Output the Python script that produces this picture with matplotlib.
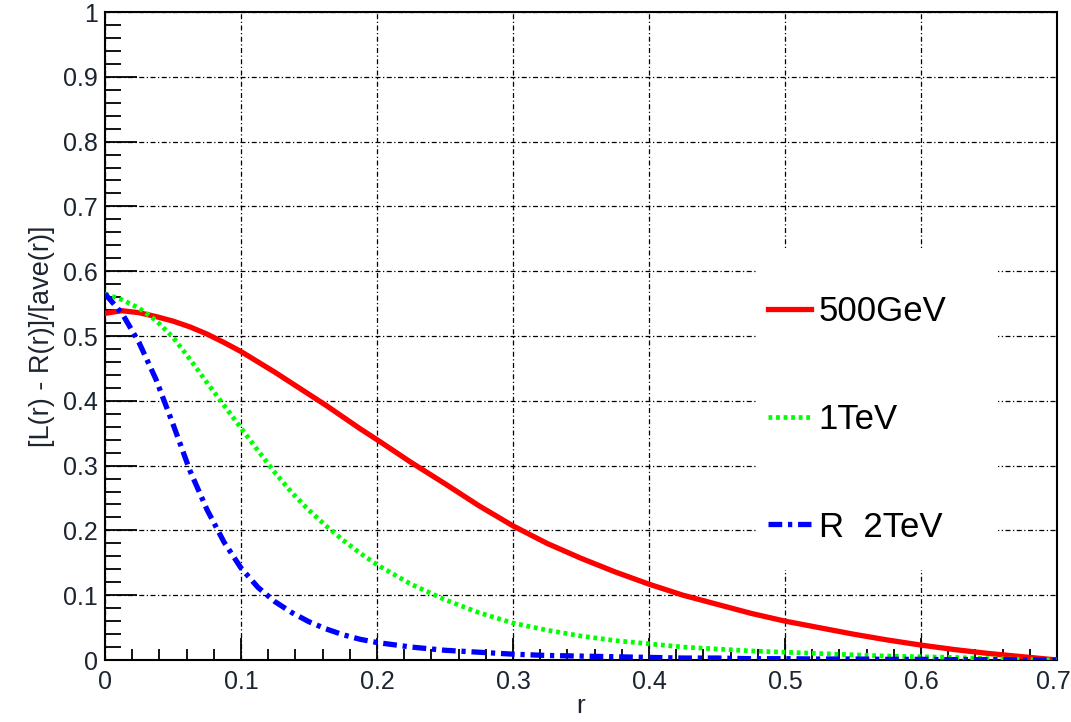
import matplotlib
matplotlib.use("Agg")
from matplotlib import pyplot as plt
from matplotlib.ticker import MultipleLocator, FuncFormatter
from matplotlib.patches import Rectangle
from matplotlib.transforms import ScaledTranslation

plt.rcParams['font.family'] = ['Liberation Sans', 'DejaVu Sans']

# values
r = [0, 0.0125, 0.025, 0.0375, 0.05, 0.0625, 0.075, 0.0875, 0.1, 0.1125,
     0.125, 0.1375, 0.15, 0.1625, 0.175, 0.1875, 0.2, 0.225, 0.25, 0.275,
     0.3, 0.325, 0.35, 0.375, 0.4, 0.425, 0.45, 0.475, 0.5, 0.525,
     0.55, 0.575, 0.6, 0.625, 0.65, 0.675, 0.7]
gev500 = [0.535, 0.539, 0.536, 0.530, 0.523, 0.514, 0.503, 0.490, 0.476, 0.460,
          0.444, 0.427, 0.410, 0.393, 0.375, 0.357, 0.340, 0.305, 0.272, 0.238,
          0.207, 0.180, 0.157, 0.136, 0.117, 0.100, 0.086, 0.072, 0.060, 0.050,
          0.040, 0.031, 0.023, 0.016, 0.010, 0.005, 0.0]
tev1 = [0.565, 0.556, 0.543, 0.524, 0.498, 0.464, 0.428, 0.393, 0.358, 0.323,
        0.289, 0.258, 0.231, 0.207, 0.185, 0.165, 0.147, 0.117, 0.093, 0.073,
        0.057, 0.046, 0.037, 0.030, 0.025, 0.020, 0.017, 0.014, 0.012, 0.010,
        0.008, 0.006, 0.005, 0.004, 0.002, 0.001, 0.0]
tev2 = [0.565, 0.535, 0.490, 0.433, 0.364, 0.292, 0.232, 0.182, 0.142, 0.112,
        0.090, 0.073, 0.059, 0.048, 0.039, 0.032, 0.027, 0.020, 0.015, 0.012,
        0.009, 0.007, 0.006, 0.005, 0.004, 0.003, 0.003, 0.002, 0.002, 0.0015,
        0.0015, 0.001, 0.001, 0.0005, 0.0005, 0.0003, 0.0]
labels = ['500GeV', '1TeV', 'R  2TeV']
xticks = [0, 0.1, 0.2, 0.3, 0.4, 0.5, 0.6, 0.7]

fig = plt.figure(figsize=(10.71, 7.22), dpi=100)
ax = fig.add_axes([105/1071, 1 - 660/722, 952/1071, 648/722])

ax.plot(r, gev500, color='red', lw=3.8, label=labels[0], zorder=3)
ax.plot(r, tev1, color='#00ff00', lw=3.4, linestyle=(0, (0.8, 0.8)), label=labels[1], zorder=3)
ax.plot(r, tev2, color='blue', lw=3.8, linestyle=(0, (2.6, 1.1, 0.8, 1.1)), label=labels[2], zorder=3)

ax.set_xlim(0, 0.7)
ax.set_ylim(0, 1)
fmt = FuncFormatter(lambda v, p: f"{v:.1f}".rstrip('0').rstrip('.') if v else "0")
ax.set_xticks(xticks, [fmt(v, None) for v in xticks])
ax.xaxis.set_minor_locator(MultipleLocator(0.02))
ax.yaxis.set_major_locator(MultipleLocator(0.1))
ax.yaxis.set_minor_locator(MultipleLocator(0.02))
ax.yaxis.set_major_formatter(fmt)

ax.grid(True, which='major', color='black', lw=0.9, linestyle=(0, (4, 2, 1, 2)))
ax.set_axisbelow(False)

# white area behind the legend hides the grid there
ax.add_patch(Rectangle((0.685, 0.139), 0.253, 0.494, transform=ax.transAxes,
                       facecolor='white', edgecolor='none', zorder=2.8))

lab_col = '#1c2430'
ax.tick_params(axis='x', which='major', direction='in', length=16, width=1.3,
               labelsize=18, pad=7, labelcolor=lab_col, top=False)
ax.tick_params(axis='x', which='minor', direction='in', length=8, width=1.3, top=False)
ax.tick_params(axis='y', which='major', direction='in', length=23, width=1.3,
               labelsize=18, pad=5, labelcolor=lab_col, right=False)
ax.tick_params(axis='y', which='minor', direction='in', length=11.5, width=1.3, right=False)
for s in ax.spines.values():
    s.set_linewidth(1.5)

# nudge the last x label so it stays inside the picture
last = ax.get_xticklabels()[-1]
last.set_transform(last.get_transform() + ScaledTranslation(-4/100, 0, fig.dpi_scale_trans))

ax.set_xlabel('r', fontsize=19, color=lab_col, loc='center', labelpad=0)
ax.set_ylabel('[L(r) - R(r)]/[ave(r)]', fontsize=19.5, color=lab_col, labelpad=6)

leg = ax.legend(loc='upper left', bbox_to_anchor=(0.685, 0.579), fontsize=25,
                frameon=False, handlelength=1.24, handletextpad=0.23,
                labelspacing=2.15, borderpad=0.3, borderaxespad=0)
leg.set_zorder(5)

fig.savefig('out.png', dpi=100)
